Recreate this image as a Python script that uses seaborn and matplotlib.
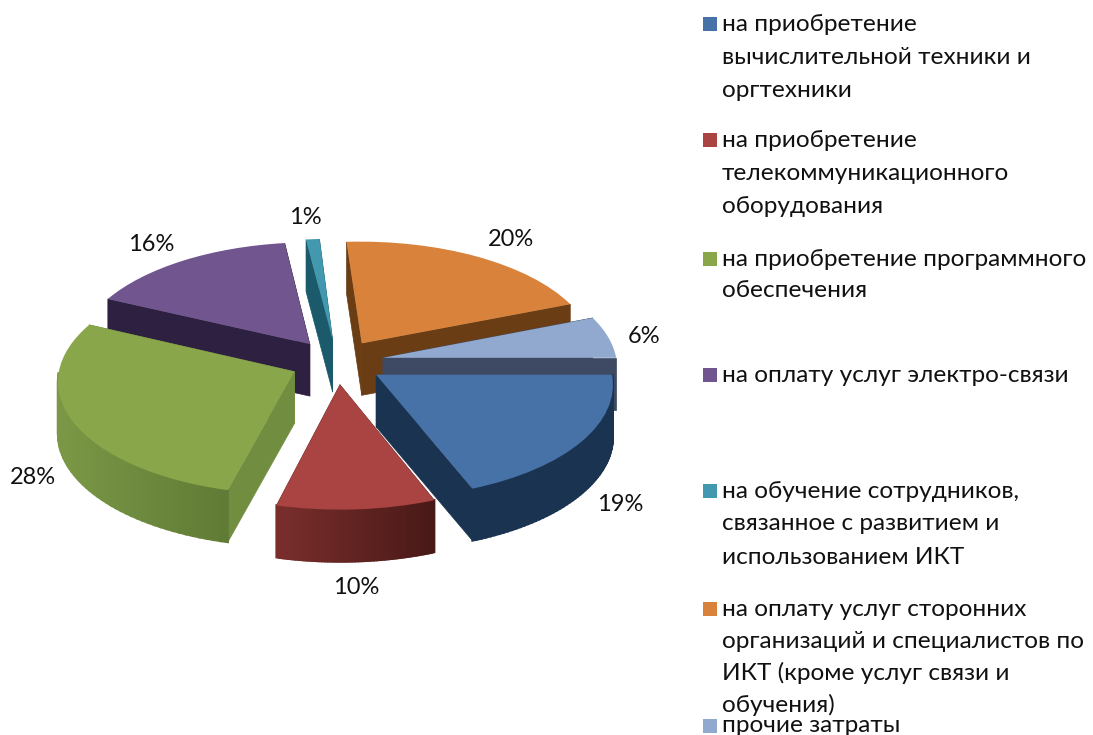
import numpy as np
import matplotlib
matplotlib.use("Agg")
import matplotlib.pyplot as plt
from matplotlib.transforms import Transform
from matplotlib.colors import to_rgb
import seaborn as sns

# ---- data ----
shares = [19, 10, 28, 16, 1, 20, 6]
pct_labels = ["19%", "10%", "28%", "16%", "1%", "20%", "6%"]
legend_lines = [
    ["на приобретение", "вычислительной техники и", "оргтехники"],
    ["на приобретение", "телекоммуникационного", "оборудования"],
    ["на приобретение программного", "обеспечения"],
    ["на оплату услуг электро-связи"],
    ["на обучение сотрудников,", "связанное с развитием и", "использованием ИКТ"],
    ["на оплату услуг сторонних", "организаций и специалистов по", "ИКТ (кроме услуг связи и", "обучения)"],
    ["прочие затраты"],
]
# ---- style ----
top_colors = ["#4672a8", "#a94442", "#8aa64b", "#71558f", "#4298af", "#d9823b", "#92a9cf"]
wall_left = ["#1a3350", "#7a2e2c", "#7b9846", "#2e2040", "#1a5a6a", "#6a3d14", "#3e4a63"]
wall_right = ["#1a3350", "#481917", "#5f7a35", "#2e2040", "#1a5a6a", "#6a3d14", "#3e4a63"]
label_xy = [(620, 504), (356, 587), (33, 477), (151, 244), (305, 217), (511, 239), (644, 336)]
legend_y = [[24, 57, 90], [140, 173, 206], [259, 290], [375], [491, 524, 557],
            [609, 641, 673, 705], [726]]
marker_y = [24, 140, 259, 375, 491, 609, 726]
CX, CY, RX, RY, DEPTH, PERSP, EXPL = 337, 362, 234, 112, 52, 0.075, 0.2

sns.set_theme(style="white")
plt.rcParams["font.family"] = ["Lato", "DejaVu Sans"]


def project(xy, z=0.0):
    xy = np.asarray(xy, float)
    s = 1.0 / (1.0 + PERSP * xy[:, 1])
    return np.column_stack([CX + RX * xy[:, 0] * s,
                            CY - RY * xy[:, 1] * s + z * DEPTH])


class Tilt(Transform):
    input_dims = 2
    output_dims = 2
    is_separable = False
    has_inverse = False

    def transform_non_affine(self, values):
        return project(values)


fig = plt.figure(figsize=(10.93, 7.35), dpi=100)
ax = fig.add_axes([0, 0, 1, 1])
wedges, texts = ax.pie(shares, colors=top_colors, startangle=0, counterclock=False,
                       explode=[EXPL] * len(shares), labels=pct_labels,
                       textprops={"fontsize": 17, "color": "#111111"})
ax.set_aspect("auto")
ax.set_xlim(0, 1093)
ax.set_ylim(735, 0)
ax.axis("off")

to_data = Tilt() + ax.transData


def blend(a, b, f):
    a, b = np.array(to_rgb(a)), np.array(to_rgb(b))
    return tuple(a + (b - a) * f)


def depth_key(w):
    mid = np.deg2rad((w.theta1 + w.theta2) / 2)
    return -(w.center[1] + 0.5 * np.sin(mid))


order = sorted(range(len(wedges)), key=lambda i: depth_key(wedges[i]))
for rank, i in enumerate(order):
    w = wedges[i]
    base = 3 * rank + 1
    c = np.array(w.center)
    th = np.deg2rad(np.linspace(w.theta1, w.theta2, 60))
    rim = c + w.r * np.column_stack([np.cos(th), np.sin(th)])
    rim_top, rim_bot = project(rim, 0), project(rim, 1)
    xmin, xmax = rim_top[:, 0].min(), rim_top[:, 0].max()
    # radial cut walls
    for edge in (rim[0], rim[-1]):
        pts = np.array([c, edge])
        t, b = project(pts, 0), project(pts, 1)
        poly = np.vstack([t, b[::-1]])
        ax.fill(poly[:, 0], poly[:, 1], color=blend(wall_left[i], wall_right[i], 0.35),
                lw=0.5, zorder=base)
    # outer rim, shaded along x
    for k in range(len(th) - 1):
        if rim[k, 1] + rim[k + 1, 1] > 2 * c[1]:
            continue
        f = (rim_top[k, 0] - xmin) / max(xmax - xmin, 1)
        poly = np.vstack([rim_top[k:k + 2], rim_bot[k:k + 2][::-1]])
        col = blend(wall_left[i], wall_right[i], f)
        ax.fill(poly[:, 0], poly[:, 1], color=col, lw=1.5, zorder=base + 1)
    w.set_transform(to_data)
    w.set_zorder(base + 2)
    w.set_linewidth(0)

for t, (x, y) in zip(texts, label_xy):
    t.set_position((x, y))
    t.set_ha("center")
    t.set_va("center")
    t.set_zorder(50)

for color, lines, ys, my in zip(top_colors, legend_lines, legend_y, marker_y):
    ax.scatter([710], [my], marker="s", s=100, color=color, linewidths=0, zorder=40)
    for line, y in zip(lines, ys):
        ax.text(722, y, line, fontsize=17.6, color="#111111", va="center", ha="left", zorder=60)

fig.savefig("out.png", dpi=100, facecolor="white")
